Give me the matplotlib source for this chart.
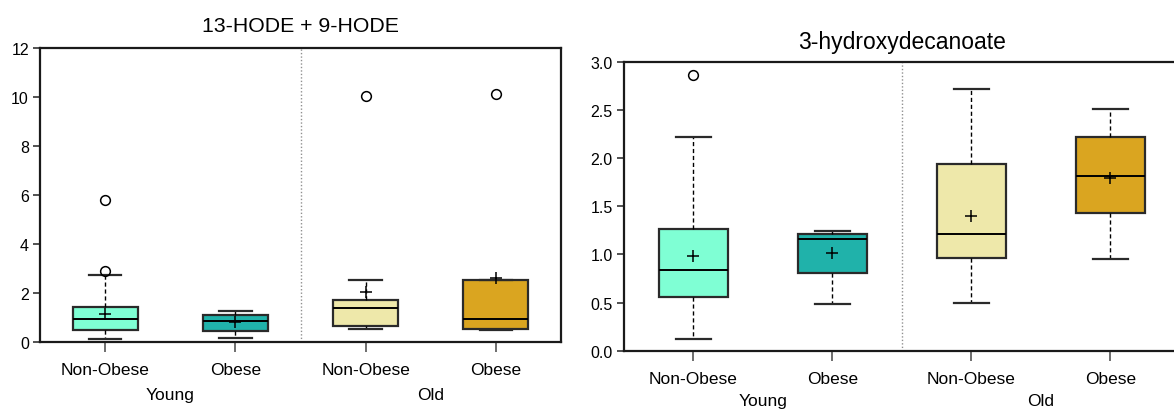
#!/usr/bin/env python3

from matplotlib import pyplot as plt
from matplotlib import transforms

plt.rcParams['font.family'] = ['Liberation Sans', 'DejaVu Sans']

groups = ["Non-Obese", "Obese", "Non-Obese", "Obese"]
age_groups = ["Young", "Old"]
colors = ["#7FFFD4", "#20B2AA", "#EEE8AA", "#DAA520"]

# 13-HODE + 9-HODE
hode_whislo = [0.12, 0.18, 0.53, 0.49]
hode_q1 = [0.48, 0.45, 0.67, 0.53]
hode_med = [0.92, 0.85, 1.39, 0.93]
hode_q3 = [1.42, 1.12, 1.72, 2.54]
hode_whishi = [2.74, 1.28, 2.54, 2.55]
hode_mean = [1.16, 0.80, 2.05, 2.61]
hode_fliers = [[5.81, 2.90], [], [10.06], [10.13]]

# 3-hydroxydecanoate
hdec_whislo = [0.12, 0.48, 0.50, 0.95]
hdec_q1 = [0.56, 0.81, 0.96, 1.43]
hdec_med = [0.84, 1.16, 1.215, 1.81]
hdec_q3 = [1.26, 1.21, 1.94, 2.215]
hdec_whishi = [2.22, 1.24, 2.72, 2.51]
hdec_mean = [0.98, 1.01, 1.40, 1.79]
hdec_fliers = [[2.86], [], [], []]


def make_stats(whislo, q1, med, q3, whishi, mean, fliers):
    stats = []
    for i in range(len(med)):
        stats.append(dict(whislo=whislo[i], q1=q1[i], med=med[i], q3=q3[i],
                          whishi=whishi[i], mean=mean[i], fliers=fliers[i]))
    return stats


def draw_panel(ax, stats, title, ylim, yticks, title_size, title_pad, group_y):
    pos = [1, 2, 3, 4]
    bp = ax.bxp(stats, positions=pos, widths=0.5, capwidths=0.25,
                showmeans=True, patch_artist=True,
                boxprops=dict(edgecolor="#2a2a2a", linewidth=1.6),
                medianprops=dict(color="black", linewidth=1.4),
                whiskerprops=dict(color="black", linewidth=1.0, linestyle=(0, (3, 2))),
                capprops=dict(color="#2a2a2a", linewidth=1.6),
                meanprops=dict(marker="+", markersize=8, markeredgecolor="black",
                               markeredgewidth=1.1),
                flierprops=dict(marker="o", markersize=7, markerfacecolor="none",
                                markeredgecolor="black", markeredgewidth=1.1))
    for patch, c in zip(bp["boxes"], colors):
        patch.set_facecolor(c)
    ax.axvline(2.5, color="#909090", linewidth=1.0, linestyle=(0, (1, 1.5)))
    ax.set_xlim(0.5, 4.5)
    ax.set_ylim(*ylim)
    ax.set_yticks(yticks)
    ax.set_xticks(pos)
    ax.set_xticklabels(groups, fontsize=12.5)
    ax.tick_params(axis="x", length=7, width=1.2, color="#555555", pad=7.5)
    ax.tick_params(axis="y", length=5, width=1.2, color="#333333", labelsize=11.5, pad=3)
    for s in ax.spines.values():
        s.set_linewidth(1.6)
        s.set_color("#1a1a1a")
    ax.set_title(title, fontsize=title_size, pad=title_pad)
    trans = transforms.blended_transform_factory(ax.transData, ax.transAxes)
    for x, lab in zip([1.5, 3.5], age_groups):
        ax.text(x, group_y, lab, transform=trans, ha="center", va="top", fontsize=12.5)


fig = plt.figure(figsize=(11.74, 4.10), dpi=100)
ax1 = fig.add_axes([0.0341, 0.1634, 0.4438, 0.7171])
ax2 = fig.add_axes([0.5315, 0.1422, 0.4736, 0.7049])

draw_panel(ax1, make_stats(hode_whislo, hode_q1, hode_med, hode_q3, hode_whishi,
                           hode_mean, hode_fliers),
           "13-HODE + 9-HODE", (0, 12), [0, 2, 4, 6, 8, 10, 12], 15.3, 12, -0.153)
draw_panel(ax2, make_stats(hdec_whislo, hdec_q1, hdec_med, hdec_q3, hdec_whishi,
                           hdec_mean, hdec_fliers),
           "3-hydroxydecanoate", (0, 3.0), [0.0, 0.5, 1.0, 1.5, 2.0, 2.5, 3.0], 16.5, 10, -0.145)
ax2.set_yticklabels(["0.0", "0.5", "1.0", "1.5", "2.0", "2.5", "3.0"])

fig.savefig("out.png", dpi=100)
